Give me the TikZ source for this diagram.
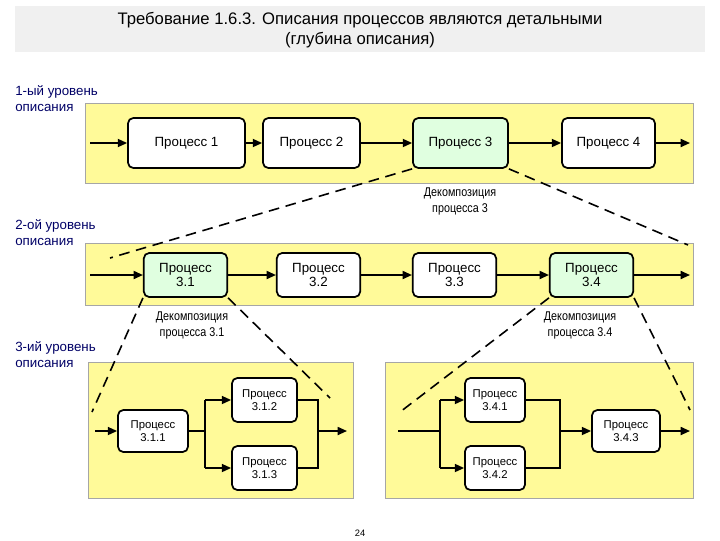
\documentclass[tikz,border=0pt]{standalone}
\usepackage{fontspec}
\setmainfont{Liberation Sans}
\usetikzlibrary{arrows.meta}
\begin{document}
\begin{tikzpicture}[x=0.75pt,y=-0.75pt,
  band/.style={fill=yellow!40!white,draw=gray!70,line width=0.6pt},
  pbox/.style={draw=black,line width=1.3pt,rounded corners=4pt,fill=white,align=center,inner sep=0pt},
  big/.style={pbox,font=\fontsize{10}{11}\selectfont,minimum height=37.5pt},
  mid/.style={pbox,font=\fontsize{10}{11}\selectfont,minimum height=33pt,minimum width=62.5pt},
  sml/.style={pbox,font=\fontsize{8.5}{10}\selectfont},
  grn/.style={fill=green!12},
  arr/.style={-{Triangle[length=7pt,width=6pt]},line width=1.3pt},
  ln/.style={line width=1.3pt},
  dsh/.style={dash pattern=on 8pt off 5pt,line width=1.2pt},
  lvl/.style={anchor=north west,align=left,font=\fontsize{10}{12}\selectfont,text=blue!40!black,inner sep=0pt},
  dec/.style={align=center,font=\fontsize{9.5}{12}\selectfont\addfontfeatures{FakeStretch=0.85},inner sep=0pt}]
\useasboundingbox (0,0) rectangle (720,540);
\fill[gray!12] (15,6) rectangle (705,52);
\node (title) at (360,30) [align=center,font=\fontsize{12.5}{15}\selectfont] {Требование 1.6.3. Описания процессов являются детальными\\(глубина описания)};
\node (l1) at (15,85) [lvl] {1-ый уровень\\описания};
\node (l2) at (15,219) [lvl] {2-ой уровень\\описания};
\node (l3) at (15,341) [lvl] {3-ий уровень\\описания};
% bands
\fill[band] (85,103) rectangle (693,183);
\fill[band] (85,243) rectangle (693,305);
\fill[band] (88,362) rectangle (353,498);
\fill[band] (385,362) rectangle (693,498);
% level 1
\node (p1) at (186.5,143) [big,minimum width=87.75pt] {Процесс 1};
\node (p2) at (311.5,143) [big,minimum width=72.75pt] {Процесс 2};
\node (p3) at (460.5,143) [big,grn,minimum width=71.25pt] {Процесс 3};
\node (p4) at (608.5,143) [big,minimum width=69.75pt] {Процесс 4};
\coordinate (i1) at (90,143); \coordinate (o1) at (690,143);
\draw[arr] (i1) -- (p1); \draw[arr] (p1) -- (p2); \draw[arr] (p2) -- (p3); \draw[arr] (p3) -- (p4); \draw[arr] (p4) -- (o1);
\node (d3) at (460,201) [dec] {Декомпозиция\\процесса 3};
% level 2
\node (q1) at (185.5,275) [mid,grn] {Процесс\\3.1};
\node (q2) at (318.5,275) [mid] {Процесс\\3.2};
\node (q3) at (454.5,275) [mid] {Процесс\\3.3};
\node (q4) at (591.5,275) [mid,grn] {Процесс\\3.4};
\coordinate (i2) at (90,275); \coordinate (o2) at (690,275);
\draw[arr] (i2) -- (q1); \draw[arr] (q1) -- (q2); \draw[arr] (q2) -- (q3); \draw[arr] (q3) -- (q4); \draw[arr] (q4) -- (o2);
\node (d31) at (192,325) [dec] {Декомпозиция\\процесса 3.1};
\node (d34) at (580,325) [dec] {Декомпозиция\\процесса 3.4};
% dashed
\coordinate (a1) at (110,258); \coordinate (a2) at (688,245);
\draw[dsh] (p3.south west) -- (a1); \draw[dsh] (p3.south east) -- (a2);
\coordinate (b1) at (92,412); \coordinate (b2) at (330,398);
\draw[dsh] (q1.south west) -- (b1); \draw[dsh] (q1.south east) -- (b2);
\coordinate (c1) at (400,412); \coordinate (c2) at (690,410);
\draw[dsh] (q4.south west) -- (c1); \draw[dsh] (q4.south east) -- (c2);
% level 3 left
\node (r1) at (153,431) [sml,minimum width=52.5pt,minimum height=31.5pt] {Процесс\\3.1.1};
\node (r2) at (264.5,400) [sml,minimum width=48.75pt,minimum height=33pt] {Процесс\\3.1.2};
\node (r3) at (264.5,468) [sml,minimum width=48.75pt,minimum height=33pt] {Процесс\\3.1.3};
\coordinate (i3) at (95,431); \coordinate (o3) at (347,431);
\draw[arr] (i3) -- (r1);
\draw[ln] (r1.east) -- (205,431);
\draw[ln] (205,400) -- (205,468);
\draw[arr] (205,400) -- (r2); \draw[arr] (205,468) -- (r3);
\draw[ln] (r2.east) -- (318,400) -- (318,468) -- (r3.east);
\draw[arr] (318,431) -- (o3);
% level 3 right
\node (s1) at (495,400) [sml,minimum width=45pt,minimum height=33pt] {Процесс\\3.4.1};
\node (s2) at (495,468) [sml,minimum width=45pt,minimum height=33pt] {Процесс\\3.4.2};
\node (s3) at (626,431) [sml,minimum width=51pt,minimum height=31.5pt] {Процесс\\3.4.3};
\coordinate (i4) at (398,431); \coordinate (o4) at (690,431);
\draw[ln] (i4) -- (440,431);
\draw[ln] (440,400) -- (440,468);
\draw[arr] (440,400) -- (s1); \draw[arr] (440,468) -- (s2);
\draw[ln] (s1.east) -- (560,400) -- (560,468) -- (s2.east);
\draw[arr] (560,431) -- (s3);
\draw[arr] (s3) -- (o4);
\node (pg) at (360,533) [font=\fontsize{7}{8}\selectfont] {24};
\end{tikzpicture}
\end{document}
